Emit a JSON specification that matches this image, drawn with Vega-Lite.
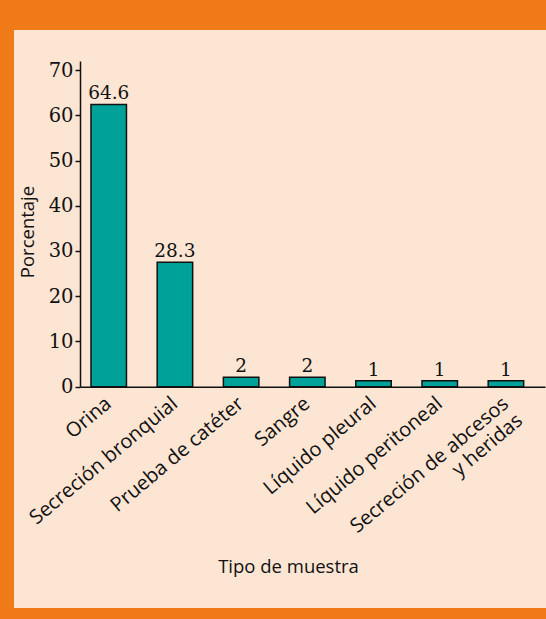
{
  "$schema": "https://vega.github.io/schema/vega-lite/v6.json",
  "width": 532,
  "height": 578,
  "autosize": {"type": "none"},
  "padding": {"left": 14, "top": 30, "right": 0, "bottom": 11},
  "background": "#EF7A17",
  "config": {"view": {"fill": "#FDE5D3", "stroke": null}},
  "data": {
    "values": [
      {"tipo": "Orina", "altura": 62.4, "etiqueta": "64.6"},
      {"tipo": "Secreción bronquial", "altura": 27.5, "etiqueta": "28.3"},
      {"tipo": "Prueba de catéter", "altura": 2.1, "etiqueta": "2"},
      {"tipo": "Sangre", "altura": 2.1, "etiqueta": "2"},
      {"tipo": "Líquido pleural", "altura": 1.3, "etiqueta": "1"},
      {"tipo": "Líquido peritoneal", "altura": 1.3, "etiqueta": "1"},
      {"tipo": "Secreción de abcesos y heridas", "altura": 1.3, "etiqueta": "1"}
    ]
  },
  "encoding": {
    "x": {
      "field": "tipo",
      "type": "nominal",
      "sort": null,
      "scale": {"range": [66, 531], "paddingInner": 0.464, "paddingOuter": 0.244, "align": 0.34},
      "axis": {
        "title": "Tipo de muestra",
        "offset": -221.3,
        "labelAngle": -40,
        "labelAlign": "right",
        "labelBaseline": "middle",
        "labelPadding": 14,
        "ticks": false,
        "domainColor": "#111111",
        "domainWidth": 1.5,
        "labelFont": "Open Sans",
        "labelFontSize": 20,
        "labelColor": "#111111",
        "labelLimit": 0,
        "labelOverlap": false,
        "labelLineHeight": 22,
        "labelExpr": "datum.label == 'Secreción de abcesos y heridas' ? ['Secreción de abcesos', 'y heridas'] : datum.label",
        "titleFont": "Open Sans",
        "titleFontSize": 18.5,
        "titleFontWeight": "normal",
        "titleColor": "#111111",
        "titleX": 274,
        "titleY": 186,
        "titleBaseline": "alphabetic",
        "titleAlign": "center"
      }
    },
    "y": {
      "field": "altura",
      "type": "quantitative",
      "scale": {"domain": [0, 72], "range": [356.7, 31], "nice": false, "zero": true},
      "axis": {
        "title": "Porcentaje",
        "offset": -66,
        "values": [0, 10, 20, 30, 40, 50, 60, 70],
        "grid": false,
        "tickSize": 5,
        "tickColor": "#111111",
        "tickWidth": 1.5,
        "domainColor": "#111111",
        "domainWidth": 1.5,
        "labelFont": "DejaVu Serif",
        "labelFontSize": 19.5,
        "labelPadding": 2,
        "labelColor": "#111111",
        "titleFont": "Open Sans",
        "titleFontSize": 18.5,
        "titleFontWeight": "normal",
        "titleColor": "#111111",
        "titleX": -53,
        "titleY": 201.5,
        "titleAngle": -90,
        "titleBaseline": "middle",
        "titleAlign": "center"
      }
    }
  },
  "layer": [
    {"mark": {"type": "bar", "fill": "#00A199", "stroke": "#111111", "strokeWidth": 1.5}},
    {
      "mark": {"type": "text", "baseline": "alphabetic", "dy": -5, "font": "DejaVu Serif", "fontSize": 18.5, "fill": "#111111"},
      "encoding": {"text": {"field": "etiqueta"}}
    }
  ]
}
